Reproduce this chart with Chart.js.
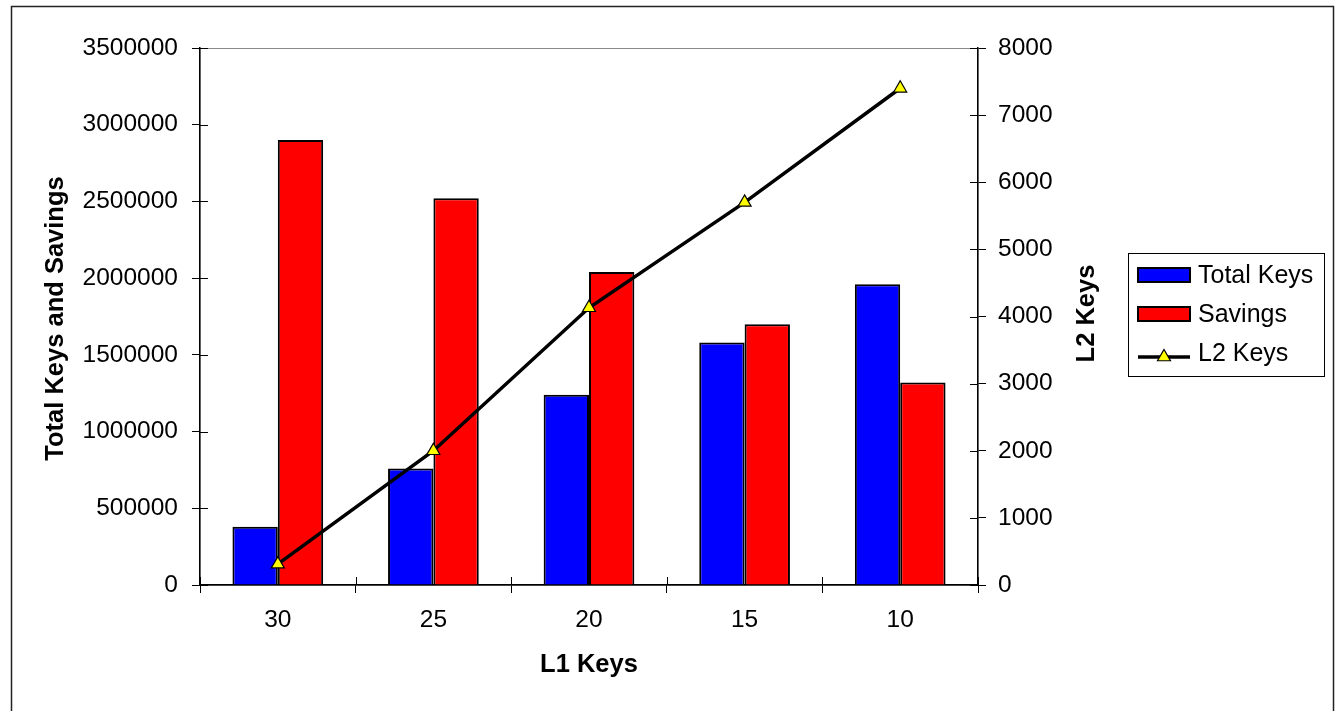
<!DOCTYPE html>
<html>
<head>
<meta charset="utf-8">
<script src="https://cdn.jsdelivr.net/npm/chart.js@4/dist/chart.umd.min.js"></script>
<style>
  html, body { margin: 0; padding: 0; background: #fff; }
  #wrap { width: 1336px; height: 711px; position: relative; }
</style>
</head>
<body>
<div id="wrap"><canvas id="c" width="1336" height="711"></canvas></div>
<script>
// L1 key counts along the category axis
const l1Keys = ['30', '25', '20', '15', '10'];
// Left axis series
const totalKeys = [380000, 760000, 1240000, 1580000, 1960000];
const savings = [2900000, 2520000, 2040000, 1700000, 1320000];
// Right axis series
const l2Keys = [310, 2000, 4130, 5700, 7400];
// Axis tick settings
const leftMax = 3500000, leftStep = 500000;
const rightMax = 8000, rightStep = 1000;

const FONT = '"Liberation Sans", Arial, sans-serif';
const TICK_LEN = 8;
const MARKER_R = 7.5;

// White page with the outer frame and a grey plot-area outline
const framePlugin = {
  id: 'frame',
  beforeDraw(chart) {
    const ctx = chart.ctx, a = chart.chartArea;
    ctx.save();
    ctx.fillStyle = '#fff';
    ctx.fillRect(0, 0, chart.width, chart.height);
    ctx.strokeStyle = '#222';
    ctx.lineWidth = 1.5;
    ctx.strokeRect(11.5, 6.5, 1322, chart.height + 20);
    ctx.strokeStyle = '#888';
    ctx.lineWidth = 1;
    ctx.strokeRect(a.left, a.top + 0.5, a.right - a.left, a.bottom - a.top);
    ctx.restore();
  }
};

// Tick marks that cross the axis lines (inner half)
const crossTicksPlugin = {
  id: 'crossTicks',
  beforeDatasetsDraw(chart) {
    const ctx = chart.ctx, a = chart.chartArea;
    ctx.save();
    ctx.strokeStyle = '#000';
    ctx.lineWidth = 1;
    ctx.beginPath();
    const yl = chart.scales.y;
    yl.ticks.forEach(t => {
      const p = Math.round(yl.getPixelForValue(t.value)) + 0.5;
      ctx.moveTo(a.left, p); ctx.lineTo(a.left + TICK_LEN, p);
    });
    const yr = chart.scales.y1;
    yr.ticks.forEach(t => {
      const p = Math.round(yr.getPixelForValue(t.value)) + 0.5;
      ctx.moveTo(a.right - TICK_LEN, p); ctx.lineTo(a.right, p);
    });
    const xs = chart.scales.x;
    const n = xs.ticks.length;
    const sp = (a.right - a.left) / n;
    for (let i = 0; i <= n; i++) {
      const p = Math.round(xs.getPixelForTick(Math.min(i, n - 1)) + (i < n ? -sp / 2 : sp / 2)) + 0.5;
      ctx.moveTo(p, a.bottom - TICK_LEN); ctx.lineTo(p, a.bottom);
    }
    ctx.stroke();
    ctx.restore();
  }
};

// Axis titles and the boxed legend
const titlesLegendPlugin = {
  id: 'titlesLegend',
  afterDraw(chart) {
    const ctx = chart.ctx, a = chart.chartArea;
    const midY = (a.top + a.bottom) / 2;
    ctx.save();
    ctx.fillStyle = '#000';
    ctx.font = 'bold 25.5px ' + FONT;
    ctx.textAlign = 'center';
    ctx.textBaseline = 'middle';
    ctx.fillText('L1 Keys', (a.left + a.right) / 2, 665);

    ctx.save();
    ctx.translate(56, midY + 2);
    ctx.rotate(-Math.PI / 2);
    ctx.fillText('Total Keys and Savings', 0, 0);
    ctx.restore();

    ctx.save();
    ctx.translate(1087, midY - 3);
    ctx.rotate(-Math.PI / 2);
    ctx.fillText('L2 Keys', 0, 0);
    ctx.restore();

    // legend box
    const bx = 1128.5, by = 253.5, bw = 196, bh = 123;
    ctx.strokeStyle = '#000';
    ctx.lineWidth = 1;
    ctx.strokeRect(bx, by, bw, bh);
    const ds = chart.data.datasets;
    const rows = [275, 314, 353];
    const sx = 1138, sw = 52;
    ctx.font = '25px ' + FONT;
    ctx.textAlign = 'left';
    ds.forEach(d => {
      const y = rows[d.legendRow];
      if (d.type === 'line') {
        ctx.strokeStyle = d.borderColor;
        ctx.lineWidth = 3.5;
        ctx.beginPath();
        ctx.moveTo(sx, y + 4); ctx.lineTo(sx + sw, y + 4);
        ctx.stroke();
        const cx = sx + sw / 2, cy = y + 4, r = MARKER_R;
        ctx.beginPath();
        ctx.moveTo(cx, cy - r);
        ctx.lineTo(cx + r * Math.sin(2 * Math.PI / 3), cy + r / 2);
        ctx.lineTo(cx - r * Math.sin(2 * Math.PI / 3), cy + r / 2);
        ctx.closePath();
        ctx.fillStyle = d.pointBackgroundColor;
        ctx.fill();
        ctx.lineWidth = 1.2;
        ctx.strokeStyle = '#000';
        ctx.stroke();
      } else {
        ctx.fillStyle = d.backgroundColor;
        ctx.fillRect(sx, y - 7, sw, 14);
        ctx.lineWidth = 2;
        ctx.strokeStyle = '#000';
        ctx.strokeRect(sx, y - 7, sw, 14);
      }
      ctx.fillStyle = '#000';
      ctx.fillText(d.label, 1198, y + 1);
    });
    ctx.restore();
  }
};

const tickFont = { family: FONT, size: 24.5 };

new Chart(document.getElementById('c'), {
  type: 'bar',
  data: {
    labels: l1Keys,
    datasets: [
      {
        label: 'Total Keys', data: totalKeys, yAxisID: 'y', order: 1, legendRow: 0,
        backgroundColor: '#0000FF', borderColor: '#000', borderWidth: 2,
        categoryPercentage: 0.583, barPercentage: 1
      },
      {
        label: 'Savings', data: savings, yAxisID: 'y', order: 1, legendRow: 1,
        backgroundColor: '#FF0000', borderColor: '#000', borderWidth: 2,
        categoryPercentage: 0.583, barPercentage: 1
      },
      {
        type: 'line', label: 'L2 Keys', data: l2Keys, yAxisID: 'y1', order: 0, legendRow: 2,
        borderColor: '#000', borderWidth: 3.5, tension: 0,
        pointStyle: 'triangle', pointRadius: MARKER_R,
        pointBackgroundColor: '#FFFF00', pointBorderColor: '#000', pointBorderWidth: 1.2
      }
    ]
  },
  options: {
    responsive: false,
    animation: false,
    events: [],
    layout: { padding: { top: 48, left: 0, right: 0, bottom: 0 } },
    plugins: { legend: { display: false }, tooltip: { enabled: false } },
    scales: {
      x: {
        offset: true,
        grid: { display: true, drawOnChartArea: false, drawTicks: true, tickLength: TICK_LEN, color: '#000', offset: true },
        border: { display: true, color: '#000', width: 1.5 },
        ticks: { font: tickFont, color: '#000', padding: 13, maxRotation: 0 },
        afterFit(s) { s.height = 126; }
      },
      y: {
        position: 'left',
        min: 0, max: leftMax,
        grid: { display: true, drawOnChartArea: false, drawTicks: true, tickLength: TICK_LEN, color: '#000' },
        border: { display: true, color: '#000', width: 1.5 },
        ticks: { stepSize: leftStep, font: tickFont, color: '#000', padding: 14, callback: v => String(v) },
        afterFit(s) { s.width = 200; }
      },
      y1: {
        position: 'right',
        min: 0, max: rightMax,
        grid: { display: true, drawOnChartArea: false, drawTicks: true, tickLength: TICK_LEN, color: '#000' },
        border: { display: true, color: '#000', width: 1.5 },
        ticks: { stepSize: rightStep, font: tickFont, color: '#000', padding: 12, callback: v => String(v) },
        afterFit(s) { s.width = 358; }
      }
    }
  },
  plugins: [framePlugin, crossTicksPlugin, titlesLegendPlugin]
});
</script>
</body>
</html>
